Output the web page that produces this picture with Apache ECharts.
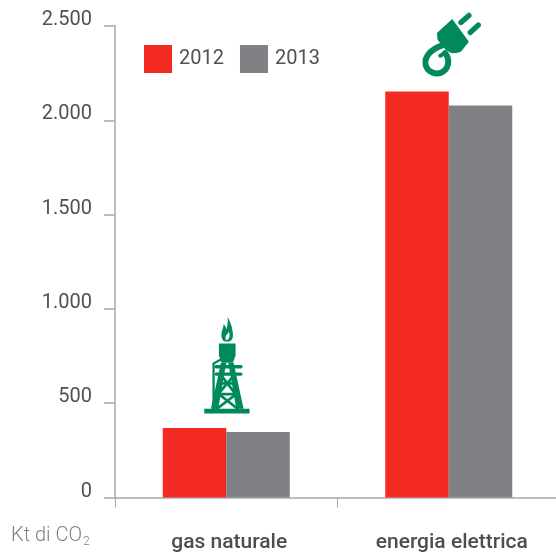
<!DOCTYPE html>
<html>
<head>
<meta charset="utf-8">
<style>
html, body { margin: 0; padding: 0; background: #fff; }
#chart { width: 556px; height: 557px; }
</style>
<script src="https://cdn.jsdelivr.net/npm/echarts@6/dist/echarts.min.js"></script>
</head>
<body>
<div id="chart"></div>
<script>
var categories = ['gas naturale', 'energia elettrica'];
var years = ['2012', '2013'];
var values2012 = [368, 2153];
var values2013 = [347, 2079];
var yTicks = { min: 0, max: 2500, interval: 500 };

var font = 'Roboto, sans-serif';
var axisColor = '#a7a9ac';
var green = '#008a5a';

var chart = echarts.init(document.getElementById('chart'));

// icone disegnate a mano, coordinate = zoom 3x del riquadro
function stroke(d, w) {
    return { type: 'path', shape: { pathData: d }, style: { fill: null, stroke: green, lineWidth: w, lineCap: 'round', lineJoin: 'round' } };
}
function fill(d) {
    return { type: 'path', shape: { pathData: d }, style: { fill: green } };
}

var rigParts = [
    fill('M112 50 C124 72 128 92 128 106 C128 118 122 124 112 124 L104 124 C96 122 92 112 94 98 C96 88 100 82 100 72 C106 78 108 84 108 88 C112 78 114 64 112 50 Z M108 120 C118 118 120 108 116 94 C112 104 106 104 106 112 C106 116 106 118 108 120 Z'),
    fill('M86 130 L136 130 L136 166 L128 188 L94 188 L86 166 Z'),
    fill('M42 326 L178 326 L178 340 L42 340 Z'),
    fill('M92 188 L108 188 L84 326 L62 326 Z'),
    fill('M114 188 L130 188 L160 326 L138 326 Z'),
    stroke('M70 326 L70 190 L92 178', 7),
    stroke('M78 200 L152 200', 10),
    stroke('M78 222 L152 222', 10),
    stroke('M84 250 L138 250', 8),
    stroke('M78 282 L144 282', 8),
    stroke('M90 222 L136 282', 8),
    stroke('M134 222 L84 282', 8),
    stroke('M86 282 L142 326', 8),
    stroke('M138 282 L80 326', 8)
];

var plugParts = [
    fill('M126 26 L80 68 L82 88 L108 120 Q128 134 152 124 L176 94 Z'),
    stroke('M152 36 L176 15', 16),
    stroke('M180 66 L204 44', 16),
    stroke('M98 104 C62 116 42 138 46 162 C50 184 76 194 94 186 C114 176 122 148 104 128', 18),
    stroke('M104 128 L90 136', 12)
];

// offset rispetto alla cima della barra 2012
var icons = [
    { parts: rigParts, dx: -36, dy: -128 },
    { parts: plugParts, dx: -38.5, dy: -81 }
];

function renderIcon(params, api) {
    var p = api.coord([api.value(0), api.value(1)]);
    var icon = icons[params.dataIndex];
    return {
        type: 'group',
        x: p[0] + icon.dx,
        y: p[1] + icon.dy,
        scaleX: 1 / 3,
        scaleY: 1 / 3,
        children: icon.parts
    };
}

chart.setOption({
    animation: false,
    textStyle: { fontFamily: font },
    grid: { left: 115, width: 445, top: 26, bottom: 59.5, outerBoundsMode: 'none' },
    legend: {
        left: 144,
        top: 45,
        padding: 0,
        itemWidth: 28,
        itemHeight: 28,
        itemGap: 16,
        icon: 'rect',
        data: years,
        textStyle: { color: '#505153', fontSize: 20, fontFamily: font, padding: [0, 0, 0, 2] }
    },
    xAxis: {
        type: 'category',
        data: categories,
        axisLine: { lineStyle: { color: axisColor, width: 1.5 } },
        axisTick: { show: true, length: 10, lineStyle: { color: axisColor, width: 1 } },
        axisLabel: {
            color: '#4d4e50', fontSize: 21, margin: 35, fontFamily: font, fontWeight: 500,
            padding: [0, 0, 0, 6], interval: 0
        }
    },
    yAxis: {
        type: 'value',
        min: yTicks.min,
        max: yTicks.max,
        interval: yTicks.interval,
        splitLine: { show: false },
        axisLine: { show: true, lineStyle: { color: axisColor, width: 1.5 } },
        axisTick: { show: true, length: 11, lineStyle: { color: axisColor, width: 1.5 } },
        axisLabel: {
            color: '#505153',
            fontSize: 20,
            margin: 23,
            fontFamily: font,
            verticalAlign: 'bottom',
            lineHeight: 12,
            showMinLabel: true,
            showMaxLabel: true,
            formatter: function (v) {
                return String(v).replace(/\B(?=(\d{3})+$)/g, '.');
            }
        }
    },
    series: [{
        name: years[0],
        type: 'bar',
        barWidth: 63.5,
        barGap: 0,
        itemStyle: { color: '#f32a22' },
        data: values2012
    }, {
        name: years[1],
        type: 'bar',
        barWidth: 63.5,
        barGap: 0,
        itemStyle: { color: '#808184' },
        data: values2013
    }, {
        type: 'custom',
        name: 'icone',
        clip: false,
        silent: true,
        renderItem: renderIcon,
        data: [[0, values2012[0]], [1, values2012[1]]]
    }],
    graphic: [{
        type: 'text',
        left: 11,
        top: 526,
        style: {
            text: 'Kt di CO{s|2}',
            fill: '#808184',
            font: '300 20px ' + font,
            rich: { s: { fontSize: 12, fontWeight: 300, fill: '#808184', padding: [12, 0, 0, 1], fontFamily: font } }
        }
    }]
});
</script>
</body>
</html>
